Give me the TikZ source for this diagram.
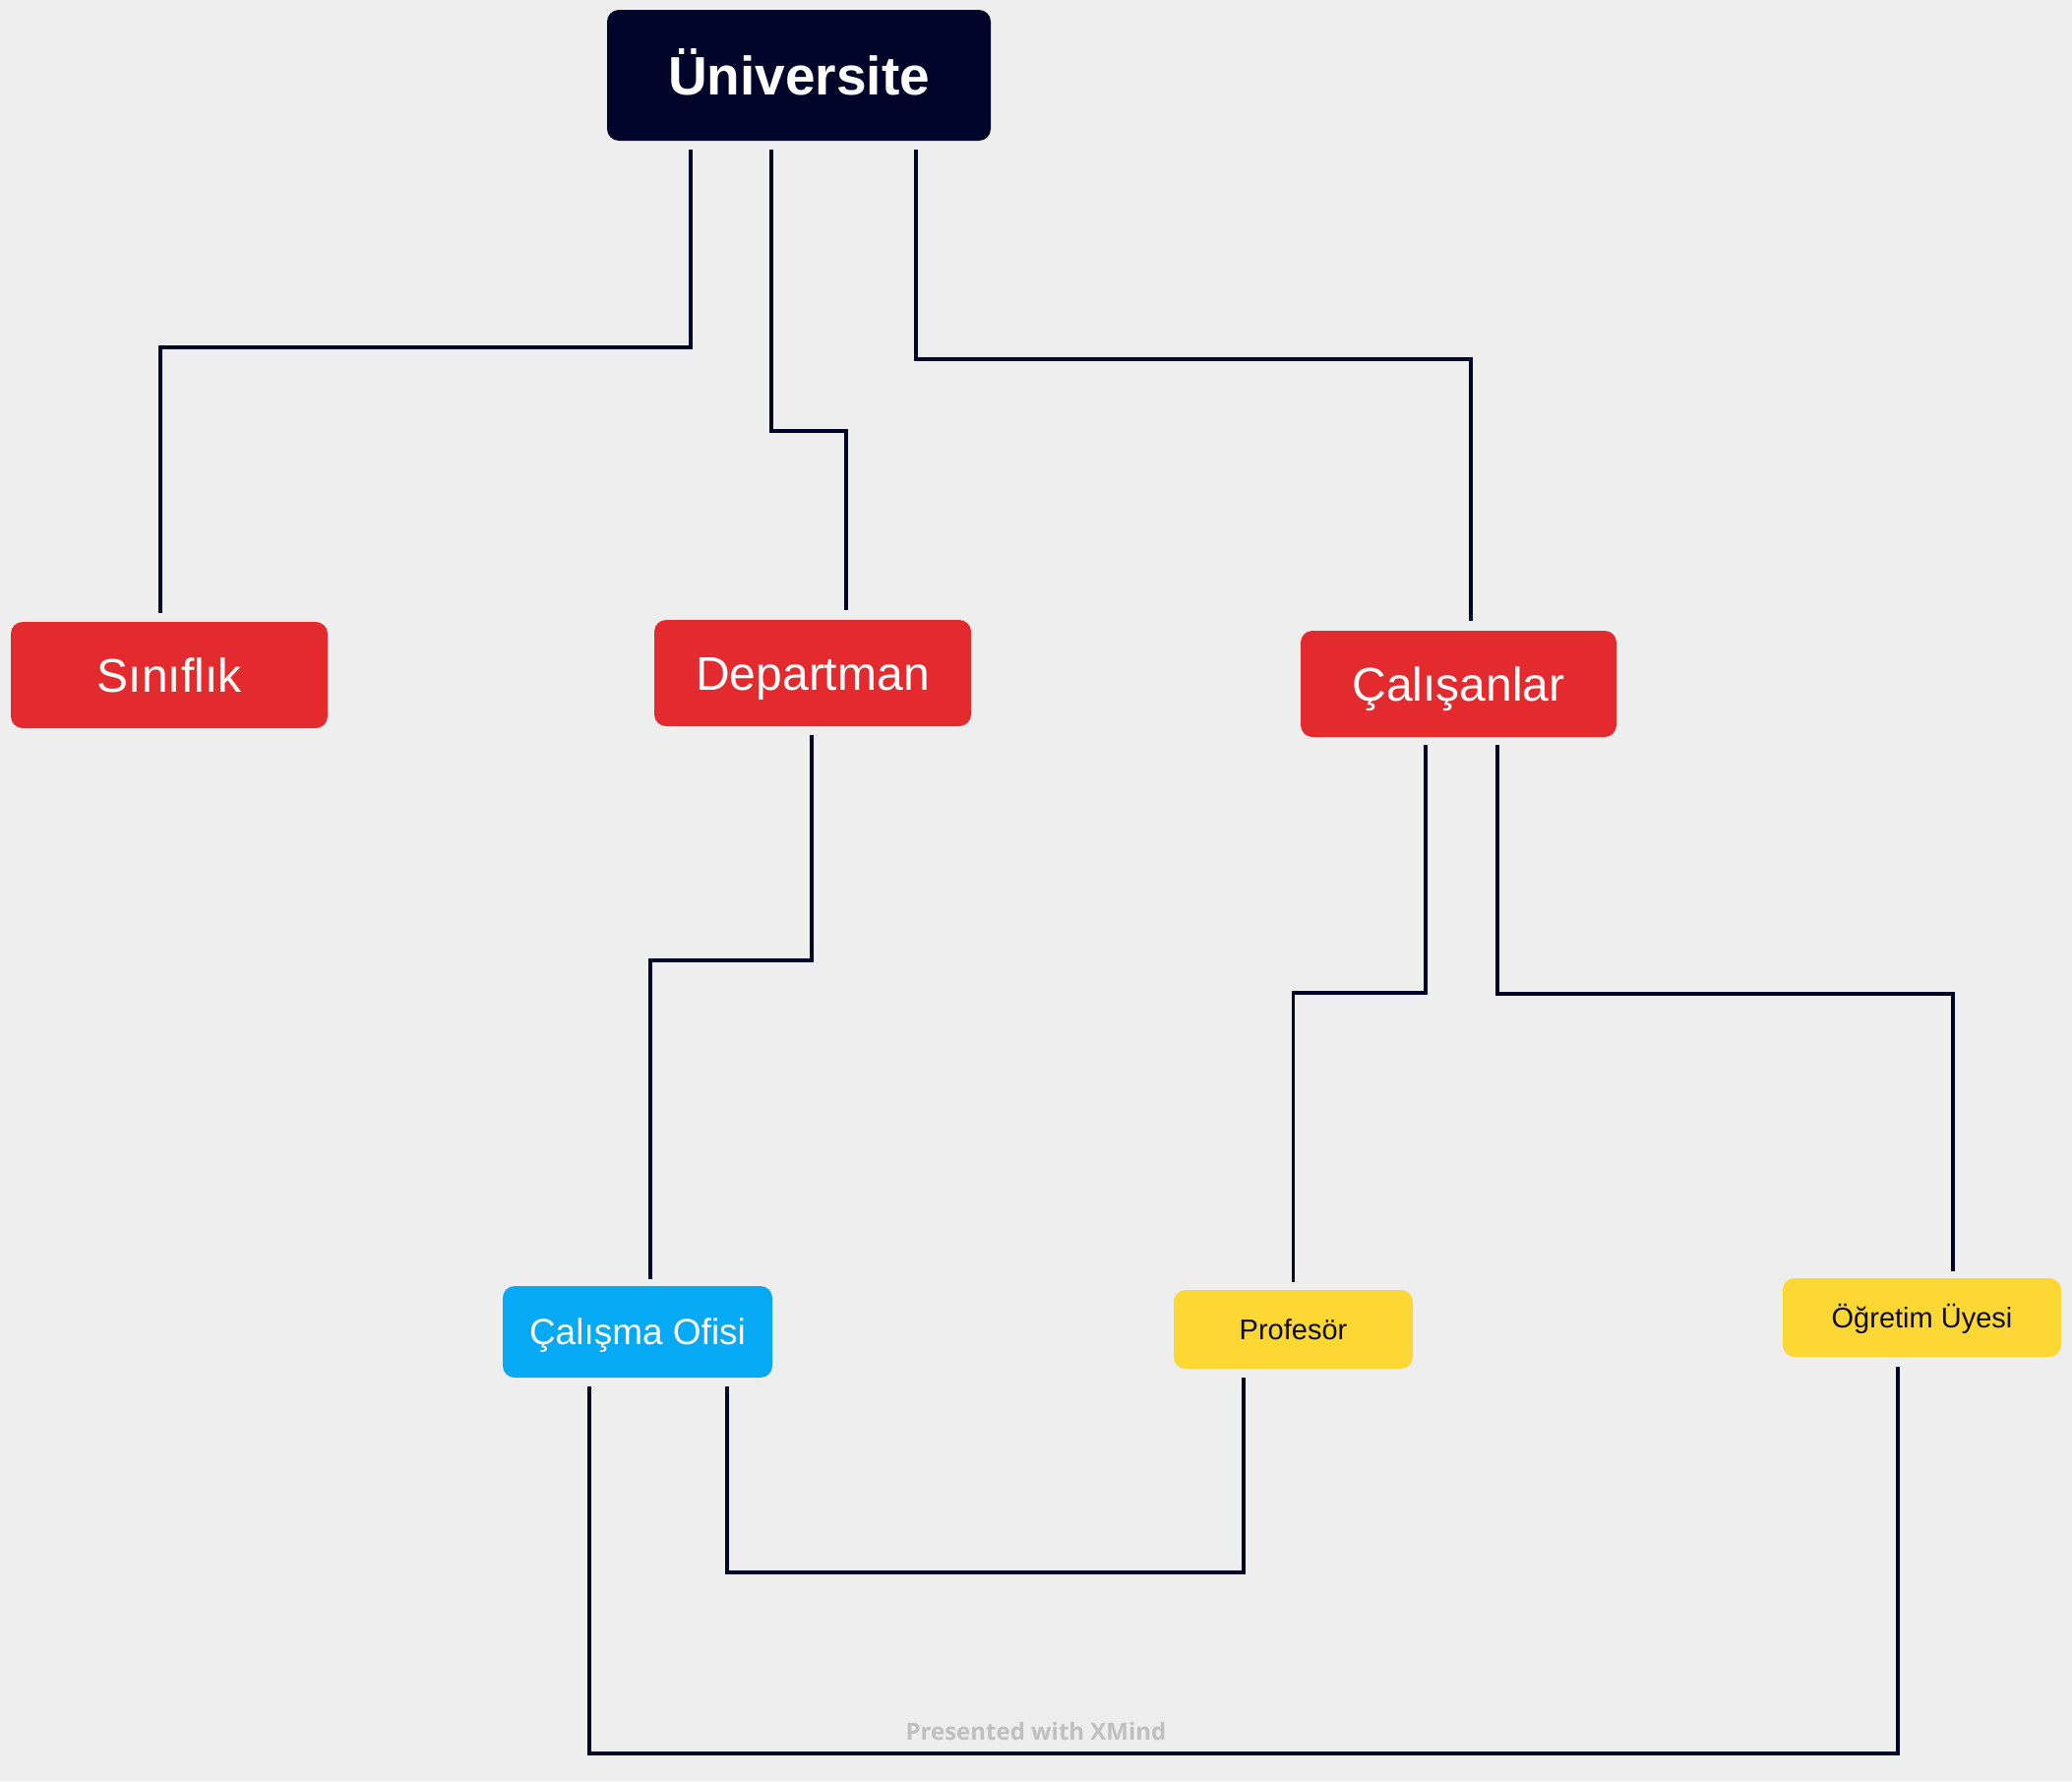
\documentclass[tikz,border=0pt]{standalone}
\usepackage{fontspec}
\setmainfont{Liberation Sans}
\newfontfamily\wmfont{Open Sans}
\usetikzlibrary{calc}
\definecolor{bgc}{HTML}{EEEEEE}
\definecolor{navy}{HTML}{000529}
\definecolor{redc}{HTML}{E32B2F}
\definecolor{bluec}{HTML}{06A9F4}
\definecolor{yelc}{HTML}{FDD835}
\definecolor{darktext}{HTML}{0D0D26}
\definecolor{wmc}{HTML}{C0C0C0}
\tikzset{
  box/.style={rounded corners=12pt, inner sep=0pt, align=center, text depth=0pt},
  bigred/.style={box, fill=redc, text=white, minimum width=322pt, minimum height=108pt, font=\fontsize{48}{52}\selectfont, text height=34.4pt},
  yel/.style={box, fill=yelc, text=darktext, minimum height=80pt, font=\fontsize{29}{33}\selectfont, text height=20.8pt},
  conn/.style={draw=navy, line width=3.5pt}
}
\begin{document}
\begin{tikzpicture}[x=1pt,y=-1pt]
\fill[bgc] (0,0) rectangle (2106,1810);
\useasboundingbox (0,0) rectangle (2106,1810);

\node[box, fill=navy, text=white, minimum width=390pt, minimum height=133pt, font=\fontsize{55}{60}\selectfont\bfseries, text height=39.4pt] (uni) at (812,76.5) {Üniversite};
\node[bigred] (sin) at (172,686) {Sınıflık};
\node[bigred] (dep) at (826,684) {Departman};
\node[bigred, minimum width=321pt] (cal) at (1482.5,695) {Çalışanlar};
\node[box, fill=bluec, text=white, minimum width=274pt, minimum height=93pt, font=\fontsize{37}{41}\selectfont, text height=26.5pt] (ofis) at (648,1353.5) {Çalışma Ofisi};
\node[yel, minimum width=243pt] (prof) at (1314.5,1351) {Profesör};
\node[yel, minimum width=283pt] (ogr) at (1953.5,1339) {Öğretim Üyesi};

\node[text=wmc, font=\wmfont\bfseries\fontsize{24}{28}\selectfont, inner sep=0pt] (wm) at (1053,1759) {Presented with XMind};

\draw[conn] ($(uni.south)+(-110,9)$) -- ++(0,201) -| ($(sin.north)+(-9,-9)$);
\draw[conn] ($(uni.south)+(-28,9)$) -- ++(0,286) -| ($(dep.north)+(34,-10)$);
\draw[conn] ($(uni.south)+(119,9)$) -- ++(0,213) -| ($(cal.north)+(12.5,-10)$);
\draw[conn] ($(dep.south)+(-1,9)$) -- ++(0,229) -| ($(ofis.north)+(13,-7)$);
\draw[conn] ($(cal.south)+(-33.5,8)$) -- ++(0,252) -| ($(prof.north)+(0,-8)$);
\draw[conn] ($(cal.south)+(39.5,8)$) -- ++(0,253) -| ($(ogr.north)+(31.5,-7)$);
\draw[conn] ($(ofis.south)+(91,9)$) -- ++(0,189) -| ($(prof.south)+(-50.5,9)$);
\draw[conn] ($(ofis.south)+(-49,9)$) -- ++(0,373) -| ($(ogr.south)+(-24.5,10)$);
\end{tikzpicture}
\end{document}
